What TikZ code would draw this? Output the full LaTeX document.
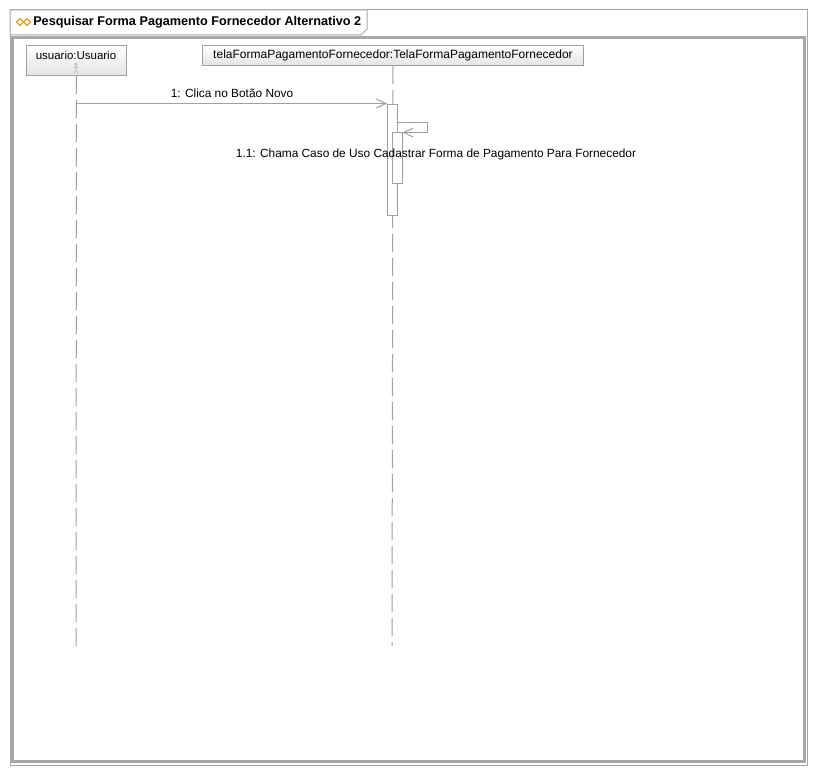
\documentclass[tikz,border=0pt]{standalone}
\usepackage{fontspec}
\setmainfont{Liberation Sans}
\usetikzlibrary{arrows.meta}
\definecolor{fgray}{HTML}{A8A8A8}
\definecolor{bgray}{HTML}{A0A0A0}
\definecolor{lgray}{HTML}{E4E4E4}
\definecolor{dorange}{HTML}{E8A020}
\begin{document}
\begin{tikzpicture}[x=0.75pt,y=-0.75pt,
  headbox/.style={draw=bgray, line width=0.75pt, top color=white, bottom color=lgray, inner sep=0pt, font=\fontsize{9}{10}\selectfont},
  actbox/.style={draw=bgray, line width=0.75pt, fill=white, inner sep=0pt, minimum width=7.5pt},
  lifeline/.style={draw=bgray, line width=0.75pt, dash pattern=on 13.5pt off 4.5pt},
  msg/.style={draw=bgray, line width=0.75pt, -{Straight Barb[length=7pt,width=6.5pt]}},
  lbl/.style={font=\fontsize{8.9}{10}\selectfont, inner sep=0pt}]
\useasboundingbox (0,0) rectangle (818,774);
\fill[white] (0,0) rectangle (818,774);
% outer frame
\draw[fgray, line width=0.75pt] (10,10) rectangle (807,765);
% title tab
\draw[fgray, line width=0.75pt, fill=white] (10,10) -- (367,10) -- (367,29) -- (361,35) -- (10,35) -- cycle;
\node[anchor=west, inner sep=0pt, font=\bfseries\fontsize{9.5}{10}\selectfont] (title) at (33,22) {Pesquisar Forma Pagamento Fornecedor Alternativo 2};
\foreach \cx in {20,27}{
  \draw[dorange, line width=0.8pt, fill=white] (\cx,18.5) -- (\cx+3.5,22) -- (\cx,25.5) -- (\cx-3.5,22) -- cycle;
}
% inner thick frame
\draw[fgray, line width=1.8pt] (12.5,37.5) rectangle (804.5,761.5);
% lifeline heads
\node[headbox, minimum width=75pt, minimum height=22.5pt, anchor=north west] (usuario) at (26,45) {};
\node[font=\fontsize{8.6}{10}\selectfont, inner sep=0pt, anchor=center] (usuariolbl) at (76,55) {usuario:Usuario};
\node[headbox, minimum width=285.75pt, minimum height=15pt, anchor=north west] (tela) at (202,45) {telaFormaPagamentoFornecedor:TelaFormaPagamentoFornecedor};
% actor icon
\begin{scope}[draw=bgray!70, line width=0.5pt]
  \draw (76,64.5) circle (1.3);
  \draw (76,66) -- (76,70) (74,67.5) -- (78,67.5) (76,70) -- (74.3,73) (76,70) -- (77.7,73);
\end{scope}
% lifelines
\coordinate (uend) at (76,646);
\coordinate (tend) at (392,646);
\draw[lifeline] (usuario.south) -- (uend);
\draw[lifeline] (tela.south) -- (tend);
% activation boxes
\node[actbox, minimum height=83.25pt, anchor=north] (act1) at (392.5,104) {};
\node[actbox, minimum height=37.5pt, anchor=north] (act2) at (397,132.5) {};
% message 1
\coordinate (m1start) at (76,103.5);
\draw[msg] (m1start) -- (m1start -| act1.west);
\node[lbl] (m1lbl) at (232,93) {1: Clica no Botão Novo};
% self message 1.1
\coordinate (s1) at (act1.east |- 0,123);
\coordinate (s2) at (427.5,123);
\coordinate (s3) at (427.5,132.5);
\draw[msg] (s1) -- (s2) -- (s3) -- (act2.north east);
\node[lbl] (m2lbl) at (436,154) {1.1: Chama Caso de Uso Cadastrar Forma de Pagamento Para Fornecedor};
\end{tikzpicture}
\end{document}
